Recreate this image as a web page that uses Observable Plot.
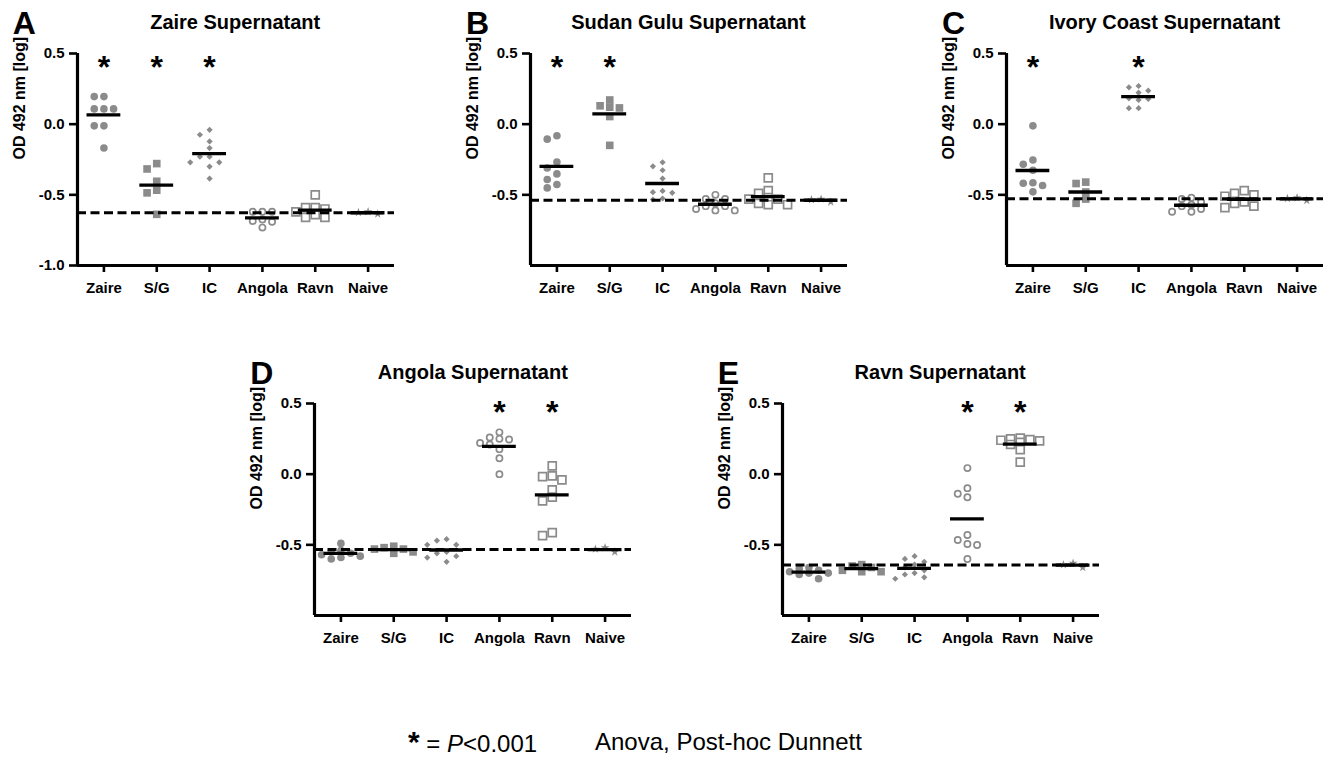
<!DOCTYPE html>
<html><head><meta charset="utf-8">
<script src="https://cdn.jsdelivr.net/npm/d3@7"></script>
<script src="https://cdn.jsdelivr.net/npm/@observablehq/plot@0.6"></script>
<style>
html,body{margin:0;padding:0;background:#fff;overflow:hidden;}
#root{position:relative;width:1324px;height:762px;overflow:hidden;background:#fff;font-family:"Liberation Sans",Arial,sans-serif;}
.abs{position:absolute;white-space:nowrap;color:#000;}
.abs svg{background:transparent;max-width:none !important;}
</style></head><body><div id="root"></div>
<script>
// ---- data ----
const groups = ["Zaire", "S/G", "IC", "Angola", "Ravn", "Naive"];
const panelLetters = ["A", "B", "C", "D", "E"];
const panelTitles = ["Zaire Supernatant", "Sudan Gulu Supernatant", "Ivory Coast Supernatant", "Angola Supernatant", "Ravn Supernatant"];
const yLabel = "OD 492 nm [log]";
const yTicksFull = [0.5, 0.0, -0.5, -1.0];
const yTicksShort = [0.5, 0.0, -0.5];

// OD values (log) per group, order = groups
const zaireSupernatant = [
  [0.195, 0.195, 0.108, 0.108, 0.108, -0.012, -0.012, -0.169],
  [-0.279, -0.317, -0.404, -0.467, -0.486, -0.638],
  [-0.04, -0.075, -0.122, -0.169, -0.23, -0.23, -0.27, -0.27, -0.30, -0.385],
  [-0.62, -0.62, -0.62, -0.674, -0.685, -0.69, -0.732],
  [-0.50, -0.59, -0.59, -0.60, -0.62, -0.64, -0.66, -0.66],
  [-0.62, -0.625, -0.635]
];
const sudanGuluSupernatant = [
  [-0.082, -0.106, -0.268, -0.310, -0.352, -0.392, -0.427, -0.451],
  [0.171, 0.13, 0.12, 0.115, 0.054, -0.15],
  [-0.27, -0.298, -0.326, -0.385, -0.472, -0.481, -0.486, -0.526, -0.533],
  [-0.50, -0.53, -0.53, -0.56, -0.58, -0.58, -0.60, -0.61, -0.61],
  [-0.38, -0.47, -0.49, -0.52, -0.53, -0.53, -0.56, -0.57, -0.57],
  [-0.53, -0.535, -0.55]
];
const ivoryCoastSupernatant = [
  [-0.012, -0.254, -0.284, -0.326, -0.415, -0.418, -0.434, -0.479],
  [-0.41, -0.42, -0.48, -0.53, -0.56],
  [0.27, 0.261, 0.237, 0.223, 0.183, 0.178, 0.171, 0.113, 0.113],
  [-0.52, -0.53, -0.55, -0.57, -0.58, -0.60, -0.62, -0.62],
  [-0.47, -0.49, -0.50, -0.51, -0.55, -0.56, -0.58, -0.59],
  [-0.52, -0.525, -0.54]
];
const angolaSupernatant = [
  [-0.49, -0.54, -0.55, -0.56, -0.57, -0.58, -0.59, -0.60],
  [-0.51, -0.52, -0.53, -0.53, -0.55, -0.56],
  [-0.46, -0.47, -0.50, -0.50, -0.55, -0.56, -0.58, -0.59, -0.62],
  [0.296, 0.26, 0.25, 0.245, 0.22, 0.21, 0.177, 0.113, 0.0],
  [0.059, -0.012, -0.017, -0.040, -0.111, -0.163, -0.189, -0.414, -0.435],
  [-0.52, -0.53, -0.55]
];
const ravnSupernatant = [
  [-0.66, -0.67, -0.68, -0.69, -0.70, -0.70, -0.71, -0.74],
  [-0.64, -0.65, -0.66, -0.68, -0.69, -0.69],
  [-0.58, -0.60, -0.62, -0.64, -0.66, -0.68, -0.70, -0.71, -0.73, -0.74],
  [0.043, -0.099, -0.139, -0.163, -0.430, -0.466, -0.494, -0.501, -0.600],
  [0.255, 0.25, 0.245, 0.24, 0.235, 0.225, 0.21, 0.173, 0.085],
  [-0.63, -0.64, -0.66]
];
const significantA = ["Zaire", "S/G", "IC"];
const significantB = ["Zaire", "S/G"];
const significantC = ["Zaire", "IC"];
const significantD = ["Angola", "Ravn"];
const significantE = ["Angola", "Ravn"];
const footnoteStar = "*";
const footnoteP = "P";
const footnoteRest = "<0.001";
const footnoteTest = "Anova, Post-hoc Dunnett";

// ---- layout ----
const root = document.getElementById("root");
const FONT = "'Liberation Sans', Arial, Helvetica, sans-serif";
const GRAY = "#8b8b8b";
const FW = 317, FH = 212, mL = 80, mT = 60, mR = 10, mB = 50;

function addText(txt, x, baseline, size, weight, anchor) {
  const d = document.createElement("div");
  d.className = "abs";
  d.textContent = txt;
  d.style.fontSize = size + "px";
  d.style.lineHeight = size + "px";
  d.style.fontWeight = weight;
  d.style.fontFamily = FONT;
  d.style.left = x + "px";
  d.style.top = (baseline - 0.8465 * size) + "px";
  if (anchor === "middle") d.style.transform = "translateX(-50%)";
  root.appendChild(d);
  return d;
}

// GraphPad-like scatter: each point takes the nearest free column (max ±2),
// or the least crowded one when every column collides.
function layoutPoints(values) {
  const pxPerUnit = FH / 1.5;
  const minGap = 6.5;
  const cols = [0, -1, 1, -2, 2];
  const pts = [];
  values.forEach((arr, gi) => {
    const sorted = arr.slice().sort((a, b) => b - a);
    const slots = new Map(cols.map(c => [c, []]));
    for (const v of sorted) {
      let best = null, bestGap = -1;
      for (const s of cols) {
        const list = slots.get(s);
        const gap = list.length ? d3.min(list, u => Math.abs(u - v) * pxPerUnit) : Infinity;
        if (gap >= minGap) { best = s; break; }
        if (gap > bestGap + 0.01) { bestGap = gap; best = s; }
      }
      slots.get(best).push(v);
      pts.push({g: gi, v, s: best});
    }
  });
  return pts;
}

function drawPanel(values, sig, ticks, letter, title, axisX, frameTop, starDy) {
  const pts = layoutPoints(values);
  const step = 0.183;
  const px = d => d.g + d.s * step;
  const means = values.map((arr, g) => ({g, m: d3.mean(arr)}));
  const baseline = d3.mean(values[5]);
  const byG = g => pts.filter(d => d.g === g);
  const W = mL + FW + mR, H = mT + FH + mB;
  const plot = Plot.plot({
    width: W, height: H,
    marginLeft: mL, marginTop: mT, marginRight: mR, marginBottom: mB,
    style: {fontFamily: FONT, fontWeight: "bold", fontSize: "15px", background: "transparent", color: "#000", maxWidth: "none"},
    x: {domain: [-0.5, 5.5], axis: null},
    y: {domain: [-1, 0.5], axis: null},
    marks: [
      Plot.dot(byG(0), {x: px, y: "v", symbol: "circle", r: 3.8, fill: GRAY, stroke: "none"}),
      Plot.dot(byG(1), {x: px, y: "v", symbol: "square", r: 4.3, fill: GRAY, stroke: "none"}),
      Plot.dot(byG(2), {x: px, y: "v", symbol: "diamond2", r: 2.8, fill: GRAY, stroke: "none"}),
      Plot.dot(byG(3), {x: px, y: "v", symbol: "circle", r: 3.1, fill: "white", stroke: GRAY, strokeWidth: 1.7}),
      Plot.dot(byG(4), {x: px, y: "v", symbol: "square", r: 4.5, fill: "white", stroke: GRAY, strokeWidth: 1.7}),
      Plot.dot(byG(5), {x: px, y: "v", symbol: "star", r: 2.8, fill: GRAY, stroke: "none"}),
      Plot.ruleY(means, {y: "m", x1: d => d.g - 0.32, x2: d => d.g + 0.32, stroke: "#000", strokeWidth: 3.3}),
      Plot.ruleY([baseline], {stroke: "#000", strokeWidth: 3, strokeDasharray: "9,4.5"}),
      Plot.ruleX([-0.5], {stroke: "#000", strokeWidth: 3.2}),
      Plot.ruleY([-1], {stroke: "#000", strokeWidth: 3.2}),
      Plot.axisY({ticks, tickFormat: d => d.toFixed(1), tickSize: 8, tickPadding: 5, strokeWidth: 2.6, fontSize: 15, fontWeight: "bold", label: null}),
      Plot.axisX({ticks: d3.range(groups.length), tickFormat: i => groups[i], tickSize: 7, tickPadding: 10, strokeWidth: 2.6, fontSize: 15, fontWeight: "bold", label: null}),
      Plot.text(sig, {x: d => groups.indexOf(d), frameAnchor: "top", text: d => "*", dy: starDy, fontSize: 32, fontWeight: "bold", fill: "#000"}),
      Plot.text([yLabel], {frameAnchor: "left", dx: -58, rotate: -90, fontSize: 16, fontWeight: "bold", fill: "#000"})
    ]
  });
  plot.style.maxWidth = "none";
  plot.style.width = W + "px";
  plot.style.height = H + "px";
  const holder = document.createElement("div");
  holder.className = "abs";
  holder.style.left = (axisX - mL) + "px";
  holder.style.top = (frameTop - mT) + "px";
  holder.style.width = W + "px";
  holder.style.height = H + "px";
  holder.appendChild(plot);
  root.appendChild(holder);
  addText(letter, axisX - 64, frameTop - 19, 32, "bold");
  addText(title, axisX + FW / 2, frameTop - 24.5, 20, "bold", "middle");
}

drawPanel(zaireSupernatant, significantA, yTicksFull, panelLetters[0], panelTitles[0], 76.7, 53.3, 2);
drawPanel(sudanGuluSupernatant, significantB, yTicksShort, panelLetters[1], panelTitles[1], 530, 53.3, 2);
drawPanel(ivoryCoastSupernatant, significantC, yTicksShort, panelLetters[2], panelTitles[2], 1006, 53.3, 2);
drawPanel(angolaSupernatant, significantD, yTicksShort, panelLetters[3], panelTitles[3], 314.3, 403.3, -3);
drawPanel(ravnSupernatant, significantE, yTicksShort, panelLetters[4], panelTitles[4], 781.7, 403.3, -3);

// footnote
const foot = document.createElement("div");
foot.className = "abs";
foot.style.fontFamily = FONT;
foot.style.fontSize = "24px";
foot.style.lineHeight = "24px";
foot.style.left = "408px";
foot.style.top = (750 - 0.8465 * 24) + "px";
const s1 = document.createElement("span"); s1.textContent = footnoteStar; s1.style.fontWeight = "bold"; s1.style.fontSize = "30px";
const s2 = document.createElement("span"); s2.textContent = " = ";
const s3 = document.createElement("i"); s3.textContent = footnoteP;
const s4 = document.createElement("span"); s4.textContent = footnoteRest;
foot.append(s1, s2, s3, s4);
root.appendChild(foot);
addText(footnoteTest, 595, 750, 24, "normal");
</script>
</body></html>
